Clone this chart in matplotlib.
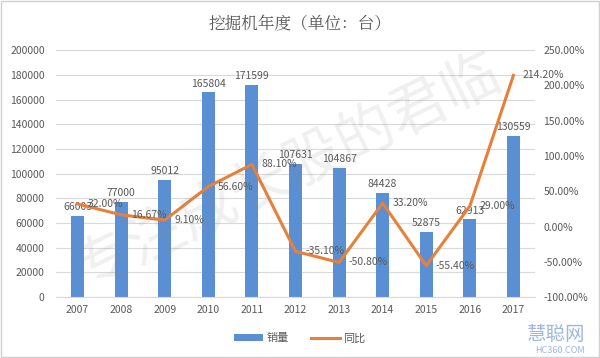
import numpy as np
import matplotlib
matplotlib.use("Agg")
import matplotlib.pyplot as plt
from matplotlib.ticker import FuncFormatter

plt.rcParams['font.family'] = ['Noto Sans CJK SC', 'DejaVu Sans']

# data
years = ['2007', '2008', '2009', '2010', '2011', '2012', '2013', '2014', '2015', '2016', '2017']
sales = [66003, 77000, 95012, 165804, 171599, 107631, 104867, 84428, 52875, 62913, 130559]
yoy = [32.00, 16.67, 9.10, 56.60, 88.10, -35.10, -50.80, 33.20, -55.40, 29.00, 214.20]

bar_color = '#5B8FD3'
line_color = '#E8803A'
txt = '#595959'

fig = plt.figure(figsize=(6, 3.58), dpi=100)
ax = fig.add_axes([0.093, 0.170, 0.799, 0.690])
ax2 = ax.twinx()

x = np.arange(len(years))
ax.bar(x, sales, width=0.3, color=bar_color, zorder=2, label='销量')
for xi, v in zip(x, sales):
    ax.text(xi, v + 3000, str(v), ha='center', va='bottom', fontsize=7.5, color=txt, zorder=5)

ax2.plot(x, yoy, color=line_color, lw=2.2, zorder=3, label='同比')
for xi, v in zip(x, yoy):
    ax2.text(xi + 0.22, v, '%.2f%%' % v, ha='left', va='center', fontsize=7.5, color=txt, zorder=5)

ax.set_xlim(-0.5, len(years) - 0.5)
ax.set_ylim(0, 200000)
ax.set_yticks(np.arange(0, 200001, 20000))
ax2.set_ylim(-100, 250)
ax2.set_yticks(np.arange(-100, 251, 50))
ax2.yaxis.set_major_formatter(FuncFormatter(lambda v, p: '%.2f%%' % v))

ax.set_xticks(x)
ax.set_xticklabels(years)
ax.grid(axis='y', color='#d9d9d9', lw=0.8, zorder=0)
ax.set_axisbelow(True)
for a in (ax, ax2):
    for s in a.spines.values():
        s.set_visible(False)
    a.tick_params(length=0, labelsize=7.5, colors=txt)
ax.spines['bottom'].set_visible(True)
ax.spines['bottom'].set_color('#d9d9d9')
ax.tick_params(axis='x', pad=6)
ax.tick_params(axis='y', pad=8)
ax2.tick_params(axis='y', pad=6)
ax2.set_zorder(ax.get_zorder() + 1)
ax2.patch.set_visible(False)

fig.text(0.5, 0.93, '挖掘机年度（单位：台）', ha='center', va='center', fontsize=12,
         color=txt, family=['Noto Serif CJK SC', 'Noto Sans CJK SC', 'DejaVu Sans'])

# watermark
fig.text(0.48, 0.52, '专注成长股的君临', ha='center', va='center', fontsize=42,
         color='#888888', alpha=0.13, rotation=26, zorder=10)

h1, l1 = ax.get_legend_handles_labels()
h2, l2 = ax2.get_legend_handles_labels()
fig.legend(h1 + h2, l1 + l2, loc='center', bbox_to_anchor=(0.5, 0.055), ncol=2,
           frameon=False, fontsize=8, handlelength=2.6, columnspacing=2.0,
           labelcolor=txt, handletextpad=0.3)

# site logo text
fig.text(0.975, 0.065, '慧聪网', ha='right', va='center', fontsize=14, color='#9DB8E0')
fig.text(0.975, 0.02, 'HC360.COM', ha='right', va='center', fontsize=6.5, color='#9DB8E0')

fig.patches.append(plt.Rectangle((0.002, 0.003), 0.996, 0.994, transform=fig.transFigure,
                                 fill=False, edgecolor='#d0d0d0', lw=1))

fig.savefig('out.png', dpi=100)
